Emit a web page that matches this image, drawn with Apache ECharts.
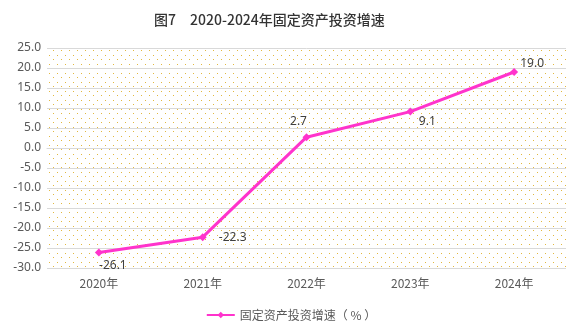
<!DOCTYPE html>
<html><head><meta charset="utf-8">
<script src="https://cdn.jsdelivr.net/npm/echarts@6/dist/echarts.min.js"></script>
<style>html,body{margin:0;padding:0;background:#fff}#c{width:582px;height:334px}</style>
</head><body><div id="c"></div>
<script>
var categories = ['2020年','2021年','2022年','2023年','2024年'];
var growth = [-26.1, -22.3, 2.7, 9.1, 19.0];
var seriesName = '固定资产投资增速（ % ）';
var titleText = '图7　2020-2024年固定资产投资增速';

var pc = document.createElement('canvas');
pc.width = 8; pc.height = 9;
var ctx = pc.getContext('2d');
ctx.fillStyle = '#ffffff'; ctx.fillRect(0,0,8,9);
ctx.fillStyle = '#e2b840'; ctx.fillRect(1,1,1,1); ctx.fillRect(5,5,1,1);

var labelPos = [[14,13],[30,0],[-8,-16],[17,10],[18,-8]];
var chart = echarts.init(document.getElementById('c'));
chart.setOption({
  animation:false,
  title:{text:titleText,left:149,top:8,textStyle:{fontFamily:'Noto Sans CJK SC',fontSize:14,fontWeight:500,color:'#333'}},
  grid:{left:47,right:16,top:48,bottom:66,show:true,borderWidth:0,backgroundColor:{image:pc,repeat:'repeat'}},
  legend:{bottom:8,left:'center',itemWidth:28,itemHeight:8,textStyle:{fontFamily:'Noto Sans CJK SC',fontSize:12,color:'#595959'},data:[seriesName]},
  xAxis:{type:'category',data:categories,boundaryGap:true,
    axisLine:{show:true,lineStyle:{color:'#d9d9d9'}},axisTick:{show:false},
    axisLabel:{fontFamily:'Noto Sans CJK SC',fontSize:12,color:'#595959',margin:9}},
  yAxis:{type:'value',min:-30,max:25,interval:5,
    axisLine:{show:false},axisTick:{show:false},
    splitLine:{lineStyle:{color:'#d9d9d9',width:1}},
    axisLabel:{fontFamily:'Noto Sans',fontSize:12,color:'#595959',margin:6,formatter:function(v){return v.toFixed(1);}}},
  series:[{name:seriesName,type:'line',data:growth.map(function(v,i){
      return {value:v,label:{offset:labelPos[i]}};}),
    symbol:'diamond',symbolSize:8,
    itemStyle:{color:'#ff33cc'},lineStyle:{color:'#ff33cc',width:3},
    label:{show:true,position:'inside',fontFamily:'Noto Sans',fontSize:12,color:'#404040',
      formatter:function(p){return p.value.toFixed(1);}}}]
});
</script></body></html>
